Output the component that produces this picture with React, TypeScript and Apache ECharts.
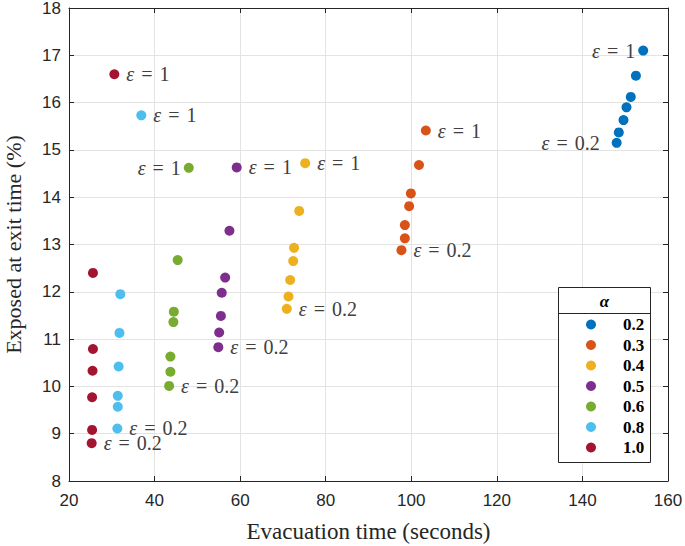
import React, { useEffect, useRef } from "react";
import * as echarts from "echarts";

// ---- data ----
const alphaNames = ["0.2", "0.3", "0.4", "0.5", "0.6", "0.8", "1.0"];
const epsLow = "0.2";
const epsHigh = "1";

const a02X = [148.0, 148.5, 149.6, 150.3, 151.3, 152.5, 154.2];
const a02Y = [15.15, 15.37, 15.63, 15.9, 16.12, 16.57, 17.1];
const a03X = [97.7, 98.5, 98.5, 99.5, 99.9, 101.8, 103.4];
const a03Y = [12.88, 13.13, 13.41, 13.81, 14.08, 14.68, 15.41];
const a04X = [70.9, 71.3, 71.7, 72.4, 72.6, 73.8, 75.2];
const a04Y = [11.64, 11.9, 12.25, 12.65, 12.93, 13.71, 14.72];
const a05X = [54.9, 55.1, 55.5, 55.7, 56.5, 57.5, 59.2];
const a05Y = [10.83, 11.14, 11.49, 11.98, 12.3, 13.29, 14.63];
const a06X = [43.4, 43.7, 43.7, 44.4, 44.5, 45.4, 48.0];
const a06Y = [10.01, 10.31, 10.63, 11.36, 11.58, 12.67, 14.62];
const a08X = [31.3, 31.4, 31.4, 31.6, 31.8, 32.0, 36.9];
const a08Y = [9.11, 9.57, 9.8, 10.42, 11.13, 11.95, 15.73];
const a10X = [25.3, 25.4, 25.4, 25.5, 25.6, 25.6, 30.6];
const a10Y = [8.8, 9.08, 9.77, 10.33, 10.79, 12.4, 16.6];

const xTicks = { min: 20, max: 160, interval: 20 };
const yTicks = { min: 8, max: 18, interval: 1 };

// ---- styles ----
const colors = ["#0072BD", "#D95319", "#EDB120", "#7E2F8E", "#77AC30", "#4DBEEE", "#A2142F"];
// [low label position, distance, high label position, distance]
const labelPlace: [string, number, string, number][] = [
  ["left", 12, "left", 3],
  ["right", 7, "right", 7],
  ["right", 7, "right", 7],
  ["right", 7, "right", 7],
  ["right", 7, "left", 3],
  ["right", 7, "right", 7],
  ["right", 7, "right", 7],
];

const allX = [a02X, a03X, a04X, a05X, a06X, a08X, a10X];
const allY = [a02Y, a03Y, a04Y, a05Y, a06Y, a08Y, a10Y];

const axisColor = "#262626";
const gridColor = "#e3e3e3";
const labelColor = "#404040";
const serif = "'Liberation Serif', 'DejaVu Serif', serif";
const sans = "'Liberation Sans', Arial, sans-serif";

export default function App() {
  const ref = useRef<HTMLDivElement>(null);
  useEffect(() => {
    document.body.style.margin = "0";
    if (!ref.current) return;
    const chart = echarts.init(ref.current, undefined, { renderer: "svg" });

    const tok = { fontFamily: serif, fontSize: 20, lineHeight: 14, color: labelColor };
    const labelStyle = (txt: string, pos: string, dist: number) => ({
      show: true,
      position: pos,
      distance: dist,
      formatter: `{e|ε}{q|=}{n|${txt}}`,
      ...tok,
      rich: {
        e: { ...tok, fontStyle: "italic" },
        q: { ...tok, padding: [0, 7, 0, 7] },
        n: { ...tok },
      },
    });

    const series = alphaNames.map((name, i) => {
      const xs = allX[i];
      const ys = allY[i];
      const n = xs.length;
      const data = xs.map((x, k) => {
        const item: any = { value: [x, ys[k]] };
        if (k === 0) item.label = labelStyle(epsLow, labelPlace[i][0], labelPlace[i][1]);
        if (k === n - 1) item.label = labelStyle(epsHigh, labelPlace[i][2], labelPlace[i][3]);
        return item;
      });
      return {
        type: "scatter",
        name,
        data,
        symbol: "circle",
        symbolSize: 10,
        itemStyle: { color: colors[i], opacity: 1 },
        label: { show: false },
        emphasis: { disabled: true },
        z: 2,
      };
    });

    const common = {
      axisLine: { show: true, lineStyle: { color: axisColor, width: 1 } },
      axisTick: { show: true, inside: true, length: 5, lineStyle: { color: axisColor } },
    };

    chart.setOption({
      animation: false,
      grid: {
        left: 69,
        right: 17,
        top: 8,
        bottom: 65,
        containLabel: false,
        outerBoundsMode: "none",
      },
      xAxis: [
        {
          type: "value",
          ...xTicks,
          position: "bottom",
          ...common,
          axisLabel: { color: axisColor, fontFamily: sans, fontSize: 17, margin: 11 },
          splitLine: { show: true, lineStyle: { color: gridColor, width: 1 } },
          name: "Evacuation time (seconds)",
          nameLocation: "middle",
          nameGap: 39,
          nameTextStyle: { color: axisColor, fontFamily: serif, fontSize: 23 },
        },
        {
          type: "value",
          ...xTicks,
          position: "top",
          ...common,
          axisLabel: { show: false },
          splitLine: { show: false },
        },
      ],
      yAxis: [
        {
          type: "value",
          ...yTicks,
          position: "left",
          ...common,
          axisLabel: { color: axisColor, fontFamily: sans, fontSize: 17, margin: 8 },
          splitLine: { show: true, lineStyle: { color: gridColor, width: 1 } },
          name: "Exposed at exit time (%)",
          nameLocation: "middle",
          nameGap: 45,
          nameTextStyle: { color: axisColor, fontFamily: serif, fontSize: 22 },
        },
        {
          type: "value",
          ...yTicks,
          position: "right",
          ...common,
          axisLabel: { show: false },
          splitLine: { show: false },
        },
      ],
      legend: {
        show: true,
        orient: "vertical",
        left: 586,
        top: 316,
        padding: 0,
        itemWidth: 10,
        itemHeight: 10,
        itemGap: 3.5,
        icon: "circle",
        data: alphaNames,
        selectedMode: false,
        formatter: (name: string) => `{v|${name}}`,
        textStyle: {
          rich: {
            v: {
              padding: [0, 0, 0, 22],
              fontWeight: "bold",
              fontFamily: serif,
              fontSize: 17,
              lineHeight: 20,
              color: "#000",
            },
          },
        },
        z: 5,
      },
      graphic: [
        {
          type: "rect",
          z: 3,
          shape: { x: 558.5, y: 287.5, width: 92, height: 175 },
          style: { fill: "#fff", stroke: axisColor, lineWidth: 1 },
        },
        {
          type: "line",
          z: 3,
          shape: { x1: 558.5, y1: 313.5, x2: 650.5, y2: 313.5 },
          style: { stroke: axisColor, lineWidth: 1 },
        },
        {
          type: "text",
          z: 4,
          x: 604.5,
          y: 301,
          style: {
            text: "α",
            fill: "#000",
            font: `italic bold 17px ${serif}`,
            align: "center",
            verticalAlign: "middle",
          },
        },
      ],
      series,
    });
    return () => chart.dispose();
  }, []);
  return <div ref={ref} style={{ width: 685, height: 546 }} />;
}
